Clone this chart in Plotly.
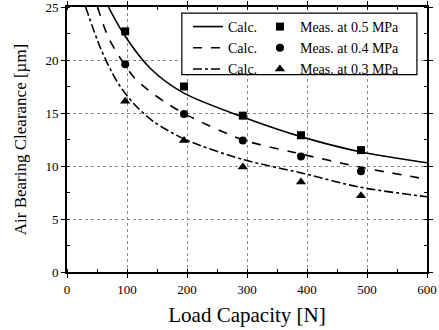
import plotly.graph_objects as go

# Measured points
meas_x = [97, 195, 293, 390, 490]
meas_05 = [22.7, 17.5, 14.75, 12.9, 11.5]
meas_04 = [19.6, 14.9, 12.4, 10.9, 9.5]
meas_03 = [16.1, 12.4, 9.9, 8.5, 7.2]

# Calculated curves
calc05_x = [69, 95, 139, 194, 294, 394, 488, 600]
calc05_y = [25.0, 22.4, 19.2, 16.9, 14.6, 12.7, 11.35, 10.3]
calc04_x = [51, 70, 111, 139, 167, 200, 294, 377, 488, 600]
calc04_y = [25.0, 22.0, 18.4, 17.0, 15.9, 14.8, 12.45, 11.3, 9.9, 8.75]
calc03_x = [31, 56, 83, 111, 144, 199, 294, 394, 488, 600]
calc03_y = [25.0, 21.1, 18.0, 15.9, 14.2, 12.45, 10.6, 9.3, 8.0, 7.1]

labels_meas = ["Meas. at 0.5 MPa", "Meas. at 0.4 MPa", "Meas. at 0.3 MPa"]

FONT = "Liberation Serif"

fig = go.Figure()
for xs, ys, dash in [(calc05_x, calc05_y, "solid"),
                     (calc04_x, calc04_y, "dash"),
                     (calc03_x, calc03_y, "dashdot")]:
    fig.add_trace(go.Scatter(x=xs, y=ys, mode="lines", name="Calc.",
                             line=dict(color="black", width=1.6, dash=dash, shape="spline", smoothing=0.8),
                             legend="legend"))

for ys, sym, lab, sz in [(meas_05, "square", labels_meas[0], 8),
                         (meas_04, "circle", labels_meas[1], 8),
                         (meas_03, "triangle-up", labels_meas[2], 9)]:
    fig.add_trace(go.Scatter(x=meas_x, y=ys, mode="markers", name=lab,
                             marker=dict(color="black", symbol=sym, size=sz),
                             legend="legend2"))

fig.add_shape(type="rect", xref="paper", yref="paper", x0=0.319, x1=0.972, y0=0.745, y1=0.977,
              line=dict(color="black", width=1.2), fillcolor="white", layer="above")

axis_common = dict(
    showline=True, linecolor="black", linewidth=2, mirror="ticks",
    ticks="outside", ticklen=4, tickwidth=1, tickcolor="black",
    showgrid=True, gridcolor="#888", griddash="dot", gridwidth=1,
    zeroline=False, automargin=False, ticklabeloverflow="allow",
    tickfont=dict(family=FONT, size=13, color="black"),
)

fig.update_xaxes(range=[0, 600], dtick=100, tick0=0,
                 minor=dict(dtick=50, ticks="inside", ticklen=3, tickcolor="black", showgrid=False),
                 title=dict(text="Load Capacity [N]", font=dict(family=FONT, size=21, color="black"), standoff=12),
                 **axis_common)
fig.update_yaxes(range=[0, 25], dtick=5, tick0=0,
                 minor=dict(dtick=2.5, ticks="inside", ticklen=3, tickcolor="black", showgrid=False),
                 title=dict(text="Air Bearing Clearance [µm]", font=dict(family=FONT, size=17, color="black"), standoff=14),
                 **axis_common)

fig.update_layout(
    width=439, height=330,
    margin=dict(l=67, r=12, t=7, b=58, autoexpand=False),
    paper_bgcolor="white", plot_bgcolor="white",
    font=dict(family=FONT, color="black"),
    showlegend=True,
    legend=dict(x=0.336, y=0.985, xanchor="left", yanchor="top", bgcolor="rgba(0,0,0,0)",
                font=dict(family=FONT, size=14, color="black"), tracegroupgap=0, itemwidth=30),
    legend2=dict(x=0.536, y=0.985, xanchor="left", yanchor="top", bgcolor="rgba(0,0,0,0)",
                 font=dict(family=FONT, size=14, color="black"), tracegroupgap=0, itemwidth=30),
)

fig.write_html("out.html", config={"displayModeBar": False},
               post_script=("document.documentElement.style.margin='0';"
                            "document.documentElement.style.overflow='hidden';"
                            "document.body.style.margin='0';document.body.style.padding='0';"
                            "document.body.style.overflow='hidden';"))
